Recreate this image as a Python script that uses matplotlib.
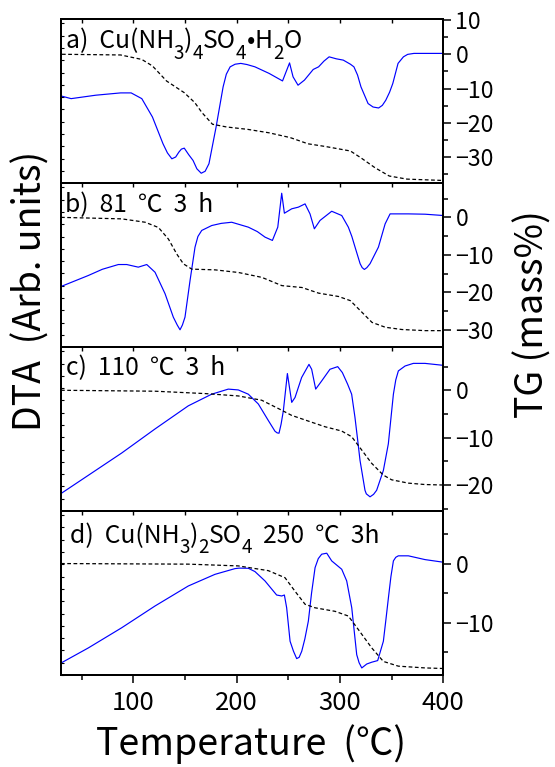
import matplotlib
matplotlib.use("Agg")
import matplotlib.pyplot as plt
from matplotlib.ticker import MultipleLocator, FixedLocator, NullFormatter

plt.rcParams['font.family'] = ['Noto Sans CJK JP', 'DejaVu Sans']
plt.rcParams['axes.unicode_minus'] = True

# ---------------- data ----------------
# Panel a: Cu(NH3)4SO4·H2O
dta_a_T = [30.9, 39.8, 63.7, 87.7, 97.9, 108.2, 118.5, 128.7, 133.0, 137.3, 141.0, 144.1,
           146.5, 149.3, 153.5, 157.8, 161.5, 165.7, 169.5, 173.2, 180.1, 186.9, 190.0, 193.7,
           198.5, 204.0, 210.0, 217.7, 231.4, 244.4, 251.2, 254.6, 259.4, 265.6, 274.1, 279.3,
           284.5, 289.5, 296.4, 303.2, 310.1, 313.5, 317.0, 320.3, 327.2, 332.0, 337.4, 341.0,
           344.3, 348.0, 351.1, 356.2, 361.4, 365.5, 371.6, 400.0]
dta_a_v = [53.1, 51.6, 53.7, 55.1, 55.1, 51.6, 40.4, 24.1, 18.5, 14.9, 16.0, 19.0,
           20.8, 21.4, 17.5, 13.9, 8.8, 6.1, 7.3, 11.9, 34.3, 58.8, 66.5, 71.0,
           72.6, 73.1, 72.4, 71.0, 67.0, 62.4, 73.4, 64.9, 59.8, 62.9, 69.4, 71.0,
           74.5, 77.1, 75.9, 75.1, 72.6, 71.0, 66.0, 58.8, 48.6, 46.5, 45.9, 47.5,
           50.6, 55.5, 60.8, 73.1, 77.1, 78.6, 79.2, 79.2]
tg_a_T = [30.9, 87.7, 108.2, 118.5, 132.2, 149.3, 159.5, 166.4, 176.6, 190.3, 210.8, 231.4,
          251.9, 269.0, 286.1, 310.1, 320.3, 334.0, 347.7, 364.8, 400.0]
tg_a_v = [0.0, -0.2, -1.5, -3.4, -7.8, -11.2, -14.1, -17.0, -20.4, -21.2, -21.9, -22.9,
          -24.3, -26.1, -26.9, -28.2, -30.2, -33.1, -35.5, -36.4, -36.8]

# Panel b: 81 C 3 h
dta_b_T = [30.0, 56.4, 70.0, 85.5, 93.6, 104.8, 113.0, 121.0, 130.7, 138.7, 142.5, 145.2,
           147.5, 150.0, 154.9, 159.7, 162.5, 166.2, 175.9, 185.0, 195.2, 211.3, 220.0, 227.5,
           234.6, 239.8, 243.6, 246.2, 253.3, 259.7, 266.2, 271.0, 275.2, 280.7, 292.0, 301.7,
           308.1, 311.5, 314.6, 319.5, 321.5, 323.6, 326.0, 329.1, 337.2, 343.7, 348.5, 366.2,
           382.4, 400.0]
dta_b_v = [37.0, 43.7, 47.5, 50.4, 50.4, 48.8, 50.4, 45.7, 32.6, 18.3, 13.5, 10.6,
           13.5, 18.3, 40.7, 61.0, 67.5, 71.2, 74.2, 75.5, 76.2, 73.2, 70.5, 67.1,
           65.1, 73.2, 93.9, 81.7, 84.4, 85.4, 87.4, 81.3, 72.2, 77.3, 82.9, 80.3,
           73.2, 67.5, 61.0, 50.9, 48.5, 47.4, 48.5, 50.9, 61.0, 75.2, 81.3, 81.3,
           81.1, 80.3]
tg_b_T = [30.0, 88.8, 111.4, 124.3, 134.0, 142.1, 148.5, 156.6, 179.2, 201.8, 224.4, 243.8,
          263.2, 279.3, 298.7, 310.0, 318.0, 331.0, 343.9, 360.0, 382.6, 400.0]
tg_b_v = [0.0, -0.4, -1.3, -2.7, -5.8, -9.8, -12.4, -13.8, -14.0, -14.7, -16.0, -18.2,
          -18.7, -20.2, -21.1, -22.2, -24.4, -28.0, -29.3, -29.9, -30.2, -30.2]

# Panel c: 110 C 3 h
dta_c_T = [30.0, 56.4, 88.7, 121.0, 153.2, 175.8, 191.9, 201.6, 211.3, 221.0, 230.7, 237.1,
           239.2, 241.0, 243.0, 245.2, 249.1, 253.3, 256.5, 262.9, 270.0, 272.6, 276.5, 282.3,
           290.3, 297.8, 302.3, 307.4, 311.3, 314.5, 317.0, 319.4, 324.2, 325.5, 329.1, 332.5,
           335.5, 342.0, 346.8, 349.3, 351.7, 354.0, 356.5, 363.0, 371.0, 382.3, 400.0]
dta_c_v = [10.7, 21.8, 35.4, 50.1, 64.2, 71.3, 74.4, 73.9, 71.3, 65.3, 55.2, 48.7,
           47.7, 47.5, 53.0, 61.2, 83.9, 66.3, 69.3, 81.5, 89.5, 86.5, 74.4, 79.4,
           86.5, 88.1, 84.5, 77.4, 71.3, 57.2, 44.0, 30.9, 12.7, 10.5, 8.7, 10.2,
           12.7, 24.8, 41.0, 56.5, 71.3, 80.0, 85.5, 88.5, 90.1, 90.1, 88.9]
tg_c_T = [30.0, 121.0, 169.4, 201.6, 224.2, 243.5, 253.2, 269.3, 285.5, 301.6, 311.3, 321.0,
          330.6, 341.9, 350.0, 366.1, 382.3, 400.0]
tg_c_v = [0.0, -0.2, -0.7, -1.2, -2.1, -4.2, -5.3, -6.5, -7.7, -8.6, -9.8, -12.6,
          -15.4, -17.9, -18.9, -19.6, -19.9, -20.0]

# Panel d: Cu(NH3)2SO4 250 C 3h
dta_d_T = [30.0, 56.4, 88.7, 121.0, 153.2, 179.0, 198.4, 202.5, 211.3, 217.7, 227.4, 238.7,
           243.6, 246.2, 248.4, 251.7, 255.0, 258.1, 260.5, 263.0, 266.0, 269.4, 272.5, 275.9,
           279.0, 282.3, 287.2, 292.0, 301.7, 306.5, 311.4, 316.2, 318.5, 321.1, 325.9, 330.7,
           336.5, 342.0, 344.5, 346.9, 349.3, 351.7, 354.0, 356.5, 366.2, 382.3, 400.0]
dta_d_v = [7.3, 16.5, 28.8, 42.1, 54.3, 61.4, 64.9, 65.2, 65.1, 63.1, 57.4, 48.8,
           48.2, 48.8, 41.0, 20.6, 14.5, 10.0, 10.8, 14.5, 22.0, 32.9, 50.0, 65.5,
           71.0, 73.7, 74.3, 69.6, 64.5, 57.4, 41.0, 12.4, 7.5, 4.3, 6.7, 7.8,
           8.8, 20.6, 34.0, 47.2, 60.0, 69.6, 71.8, 72.7, 72.7, 70.4, 68.8]
tg_d_T = [30.0, 153.2, 201.6, 230.6, 246.8, 256.5, 266.2, 275.8, 295.2, 308.1, 317.8, 330.7,
          342.0, 356.5, 382.3, 400.0]
tg_d_v = [0.0, -0.1, -0.4, -1.2, -2.4, -4.7, -6.9, -7.5, -8.1, -8.9, -11.2, -14.3,
          -16.6, -17.4, -17.7, -17.8]

# panel titles as (text, is_subscript) runs
labels = [
    [('a)  Cu(NH', 0), ('3', 1), (')', 0), ('4', 1), ('SO', 0), ('4', 1), ('•', 0), ('H', 0), ('2', 1), ('O', 0)],
    [('b)  81  ℃  3  h', 0)],
    [('c)  110  ℃  3  h', 0)],
    [('d)  Cu(NH', 0), ('3', 1), (')', 0), ('2', 1), ('SO', 0), ('4', 1), ('  250  ℃  3h', 0)],
]
tg_ylims = [(-37.6, 10.2), (-34.6, 9.1), (-25.5, 9.1), (-18.9, 8.9)]

dta_T = [dta_a_T, dta_b_T, dta_c_T, dta_d_T]
dta_v = [dta_a_v, dta_b_v, dta_c_v, dta_d_v]
tg_T = [tg_a_T, tg_b_T, tg_c_T, tg_d_T]
tg_v = [tg_a_v, tg_b_v, tg_c_v, tg_d_v]

# ---------------- figure ----------------
W, H = 555, 767
fig = plt.figure(figsize=(W / 100, H / 100), dpi=100)
left, right = 61 / W, 443.3 / W
top, bottom = (H - 19.3) / H, (H - 675) / H
gs = fig.add_gridspec(4, 1, left=left, right=right, top=top, bottom=bottom, hspace=0)

panel_tops_px = [19.3, 182.7, 346.7, 511.7]
label_x_px = [65.5, 65.0, 65.7, 69.5]
label_drop_px = [29, 29, 28, 31]

renderer = fig.canvas.get_renderer()


def rich_text(x_px, y_px_from_top, runs, size, sub_size, sub_drop):
    x = x_px
    for txt, sub in runs:
        yy = y_px_from_top + (sub_drop if sub else 0)
        t = fig.text(x / W, 1 - yy / H, txt, fontsize=sub_size if sub else size,
                     ha='left', va='baseline')
        bb = t.get_window_extent(renderer)
        x = bb.x1


spine_lw = 1.4
for i in range(4):
    ax = fig.add_subplot(gs[i])
    ax.plot(dta_T[i], dta_v[i], color='#0000ff', lw=0.85)
    ax.set_xlim(30, 400)
    ax.set_ylim(0, 100)
    for s in ax.spines.values():
        s.set_linewidth(spine_lw)
    ax.yaxis.set_major_locator(MultipleLocator(7.5))
    ax.yaxis.set_major_formatter(NullFormatter())
    ax.tick_params(axis='y', which='both', left=True, right=False, direction='in',
                   length=2.5, width=0.8)
    ax.xaxis.set_major_locator(FixedLocator([100, 200, 300, 400]))
    ax.xaxis.set_minor_locator(FixedLocator([50, 150, 250, 350]))
    if i < 3:
        ax.tick_params(axis='x', which='both', bottom=False, labelbottom=False)
    else:
        ax.tick_params(axis='x', which='major', direction='out', length=8 * 0.72,
                       width=1.1, labelsize=18.5, pad=5)
        ax.tick_params(axis='x', which='minor', direction='out', length=5 * 0.72, width=1.1)
    sec = ax.secondary_xaxis('top')
    sec.xaxis.set_major_locator(FixedLocator([50, 100, 150, 200, 250, 300, 350]))
    sec.tick_params(axis='x', direction='in', length=3, width=1.0, labeltop=False)
    sec.spines['top'].set_linewidth(spine_lw)

    tw = ax.twinx()
    tw.plot(tg_T[i], tg_v[i], color='black', lw=0.9, linestyle=(0, (3.0, 2.0)))
    tw.set_ylim(*tg_ylims[i])
    tw.yaxis.set_major_locator(MultipleLocator(10))
    tw.yaxis.set_minor_locator(MultipleLocator(5))
    tw.tick_params(axis='y', which='major', direction='out', length=8 * 0.72, width=1.1,
                   labelsize=16.7, pad=3)
    tw.tick_params(axis='y', which='minor', direction='out', length=5 * 0.72, width=1.1)
    for s in tw.spines.values():
        s.set_linewidth(spine_lw)

    rich_text(label_x_px[i], panel_tops_px[i] + label_drop_px[i], labels[i],
              size=17.8, sub_size=13.5, sub_drop=10.5)

fig.text(31 / W, 1 - 291 / H, 'DTA  (Arb. units)', rotation=90, ha='center', va='center',
         fontsize=27)
fig.text(533 / W, 1 - 314 / H, 'TG (mass%)', rotation=90, ha='center', va='center',
         fontsize=27)
fig.text(251 / W, (H - 755) / H, 'Temperature  (℃)', ha='center', va='baseline',
         fontsize=27)

fig.savefig('out.png', dpi=100)
